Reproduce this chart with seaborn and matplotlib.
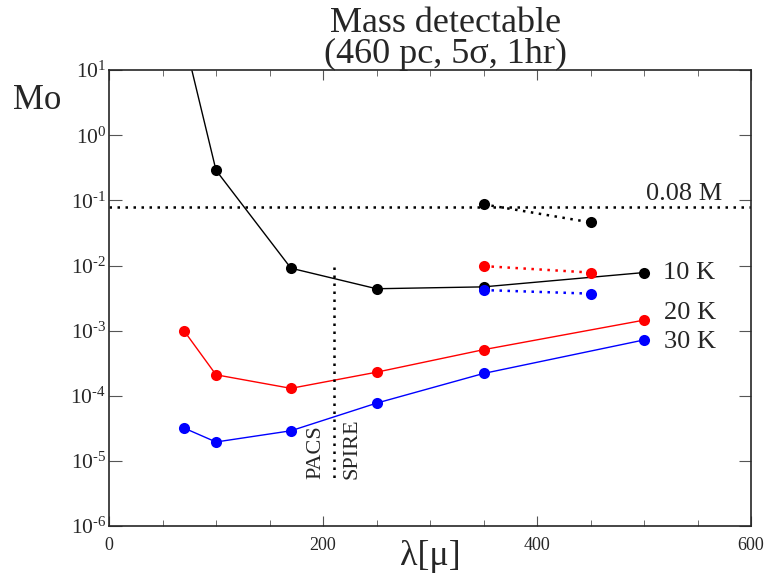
import numpy as np
import pandas as pd
import seaborn as sns
import matplotlib.pyplot as plt
from matplotlib.ticker import FixedLocator, MultipleLocator

# wavelengths (micron)
wl = [70, 100, 170, 250, 350, 500]
mass_10k = [32, 0.29, 0.0091, 0.0044, 0.0047, 0.0078]
mass_20k = [1.0e-3, 2.1e-4, 1.3e-4, 2.3e-4, 5.1e-4, 1.45e-3]
mass_30k = [3.2e-5, 1.95e-5, 2.9e-5, 7.7e-5, 2.2e-4, 7.2e-4]

# dotted pairs
wl_dot = [350, 450]
dot_10k = [0.087, 0.046]
dot_20k = [0.0098, 0.0078]
dot_30k = [0.0042, 0.0037]

bd_limit = 0.08
pacs_spire = 210
colors = {"10 K": "black", "20 K": "red", "30 K": "blue"}

df = pd.DataFrame({
    "wl": wl * 3,
    "mass": mass_10k + mass_20k + mass_30k,
    "T": ["10 K"] * 6 + ["20 K"] * 6 + ["30 K"] * 6,
})
df_dot = pd.DataFrame({
    "wl": wl_dot * 3,
    "mass": dot_10k + dot_20k + dot_30k,
    "T": ["10 K"] * 2 + ["20 K"] * 2 + ["30 K"] * 2,
})

sns.set_style("ticks")
plt.rcParams["font.family"] = ["Liberation Serif", "DejaVu Serif"]
plt.rcParams["mathtext.fontset"] = "stix"

fig = plt.figure(figsize=(7.65, 5.75), dpi=100)
ax = fig.add_axes([0.1425, 0.0852, 0.8392, 0.7928])

sns.lineplot(data=df, x="wl", y="mass", hue="T", palette=colors, marker="o",
             markersize=8, markeredgewidth=0, linewidth=1, ax=ax, legend=False)
sns.lineplot(data=df_dot, x="wl", y="mass", hue="T", palette=colors, marker="o",
             markersize=8, markeredgewidth=0, linewidth=1.8, linestyle=(0, (1, 2.2)),
             ax=ax, legend=False)

ax.axhline(bd_limit, color="black", lw=1.8, ls=(0, (1, 2.2)))
ax.plot([pacs_spire, pacs_spire], [0.0095, 5e-6], color="black", lw=1.8, ls=(0, (1, 2.2)))

ax.set_yscale("log")
ax.set_xlim(0, 600)
ax.set_ylim(1e-6, 10)
ax.xaxis.set_major_locator(FixedLocator([0, 200, 400, 600]))
ax.xaxis.set_minor_locator(MultipleLocator(50))
ax.set_yticks([10.0 ** k for k in range(-6, 2)])
ax.set_yticklabels([r"$\mathregular{10^{%d}}$" % k if k >= 0 else r"$\mathregular{10^{\text{-}%d}}$" % -k
                    for k in range(-6, 2)])
ax.yaxis.set_minor_locator(FixedLocator([]))
ax.tick_params(axis="both", which="both", direction="in", top=True, right=True, color="#555555")
ax.tick_params(axis="y", which="major", length=9, labelsize=15.5, pad=2)
ax.tick_params(axis="x", which="major", length=7, labelsize=13, pad=8)
ax.tick_params(axis="x", which="minor", length=4)
for s in ax.spines.values():
    s.set_linewidth(1.2)

ax.set_xlabel("λ[μ]", fontsize=26, labelpad=-10)
ax.set_ylabel("")
fig.text(0.017, 0.81, "Mo", fontsize=25)
fig.text(0.582, 0.876, "Mass detectable\n(460 pc, 5σ, 1hr)", fontsize=26,
         linespacing=0.95, ha="center", va="bottom")

ax.text(573, 0.1, "0.08 M", fontsize=19, ha="right", va="baseline")
ax.text(518, 0.0076, "10 K", fontsize=19, ha="left", va="center")
ax.text(519, 0.00186, "20 K", fontsize=19, ha="left", va="center")
ax.text(519, 0.00066, "30 K", fontsize=19, ha="left", va="center")
ax.text(202, 5.2e-6, "PACS", fontsize=16, rotation=90, ha="right", va="bottom")
ax.text(218, 5.2e-6, "SPIRE", fontsize=16, rotation=90, ha="left", va="bottom")

fig.savefig("out.png", dpi=100)
